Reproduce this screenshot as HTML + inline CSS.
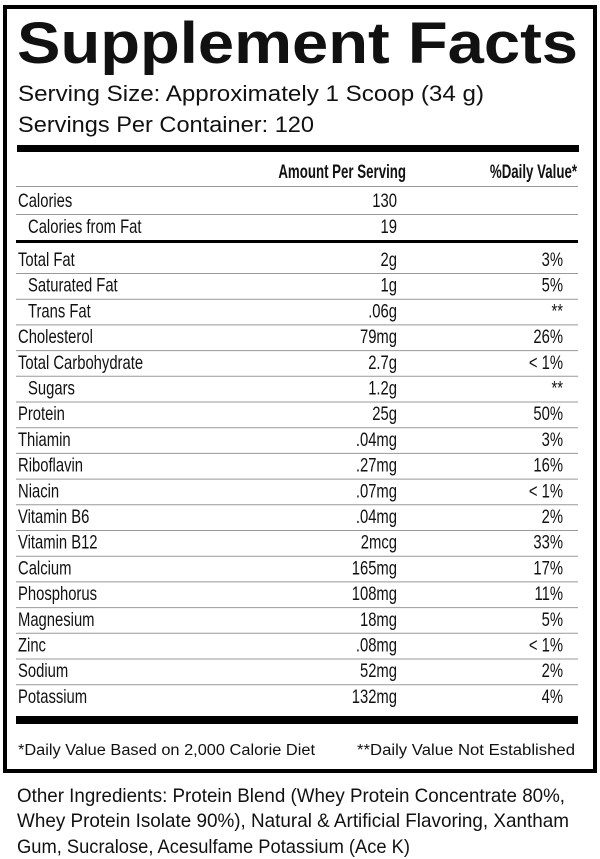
<!DOCTYPE html>
<html><head><meta charset="utf-8"><style>
html,body{margin:0;padding:0;background:#fff;}
svg{display:block;}
.n{font-family:"Liberation Sans",sans-serif;font-size:19px;fill:#111;}
.s{font-family:"Liberation Sans",sans-serif;fill:#111;}
</style></head><body>
<svg width="600" height="859" viewBox="0 0 600 859" xmlns="http://www.w3.org/2000/svg">
<rect x="5" y="7" width="590" height="764" fill="none" stroke="#000" stroke-width="4"/>
<text class="s" x="17" y="63" font-size="58" font-weight="bold" textLength="561" lengthAdjust="spacingAndGlyphs">Supplement Facts</text>
<text class="s" x="18" y="101" font-size="22" textLength="466" lengthAdjust="spacingAndGlyphs">Serving Size: Approximately 1 Scoop (34 g)</text>
<text class="s" x="18" y="132" font-size="22" textLength="296" lengthAdjust="spacingAndGlyphs">Servings Per Container: 120</text>
<rect x="17" y="145" width="562" height="7" fill="#000"/>
<text class="n" transform="translate(406,178) scale(0.7,1)" font-weight="bold" font-size="18" text-anchor="end">Amount Per Serving</text>
<text class="n" transform="translate(577,178) scale(0.7,1)" font-weight="bold" font-size="18" text-anchor="end">%Daily Value*</text>
<g stroke="#999" stroke-width="1">
<line x1="16" x2="578" y1="186.5" y2="186.5"/>
<line x1="16" x2="578" y1="214.5" y2="214.5"/>
</g>
<rect x="16" y="240" width="562" height="3" fill="#000"/>
<g class="n">
<text transform="translate(18,207) scale(0.78,1)">Calories</text><text transform="translate(397,207) scale(0.78,1)" text-anchor="end">130</text>
<text transform="translate(28,233) scale(0.78,1)">Calories from Fat</text><text transform="translate(397,233) scale(0.78,1)" text-anchor="end">19</text>
</g>
<g id="rows" class="n"></g>
<rect x="16" y="716" width="562" height="8" fill="#000"/>
<text class="s" x="18" y="755" font-size="15.5" textLength="297" lengthAdjust="spacingAndGlyphs">*Daily Value Based on 2,000 Calorie Diet</text>
<text class="s" x="575" y="755" font-size="15.5" text-anchor="end" textLength="218" lengthAdjust="spacingAndGlyphs">**Daily Value Not Established</text>
<text class="s" x="17" y="802" font-size="19.5" textLength="548" lengthAdjust="spacingAndGlyphs">Other Ingredients: Protein Blend (Whey Protein Concentrate 80%,</text>
<text class="s" x="17" y="827" font-size="19.5" textLength="552" lengthAdjust="spacingAndGlyphs">Whey Protein Isolate 90%), Natural &amp; Artificial Flavoring, Xantham</text>
<text class="s" x="17" y="853" font-size="19.5" textLength="393" lengthAdjust="spacingAndGlyphs">Gum, Sucralose, Acesulfame Potassium (Ace K)</text>
</svg>
<script>
var d=[["Total Fat","2g","3%",0],["Saturated Fat","1g","5%",1],["Trans Fat",".06g","**",1],["Cholesterol","79mg","26%",0],["Total Carbohydrate","2.7g","< 1%",0],["Sugars","1.2g","**",1],["Protein","25g","50%",0],["Thiamin",".04mg","3%",0],["Riboflavin",".27mg","16%",0],["Niacin",".07mg","< 1%",0],["Vitamin B6",".04mg","2%",0],["Vitamin B12","2mcg","33%",0],["Calcium","165mg","17%",0],["Phosphorus","108mg","11%",0],["Magnesium","18mg","5%",0],["Zinc",".08mg","< 1%",0],["Sodium","52mg","2%",0],["Potassium","132mg","4%",0]];
var g=document.getElementById("rows"),h="";
function t(x,y,s,a){return '<text transform="translate('+x+','+y+') scale(0.78,1)"'+(a?' text-anchor="end"':'')+'>'+s.replace('<','&lt;')+'</text>';}
for(var i=0;i<d.length;i++){var y=266+i*25.7;
h+=t(d[i][3]?28:18,y,d[i][0],0);
h+=t(397,y,d[i][1],1);
h+=t(563,y,d[i][2],1);
if(i<d.length-1)h+='<line x1="16" x2="578" y1="'+(y+7.5)+'" y2="'+(y+7.5)+'" stroke="#999" stroke-width="1"/>';}
g.innerHTML=h;
</script>
</body></html>
